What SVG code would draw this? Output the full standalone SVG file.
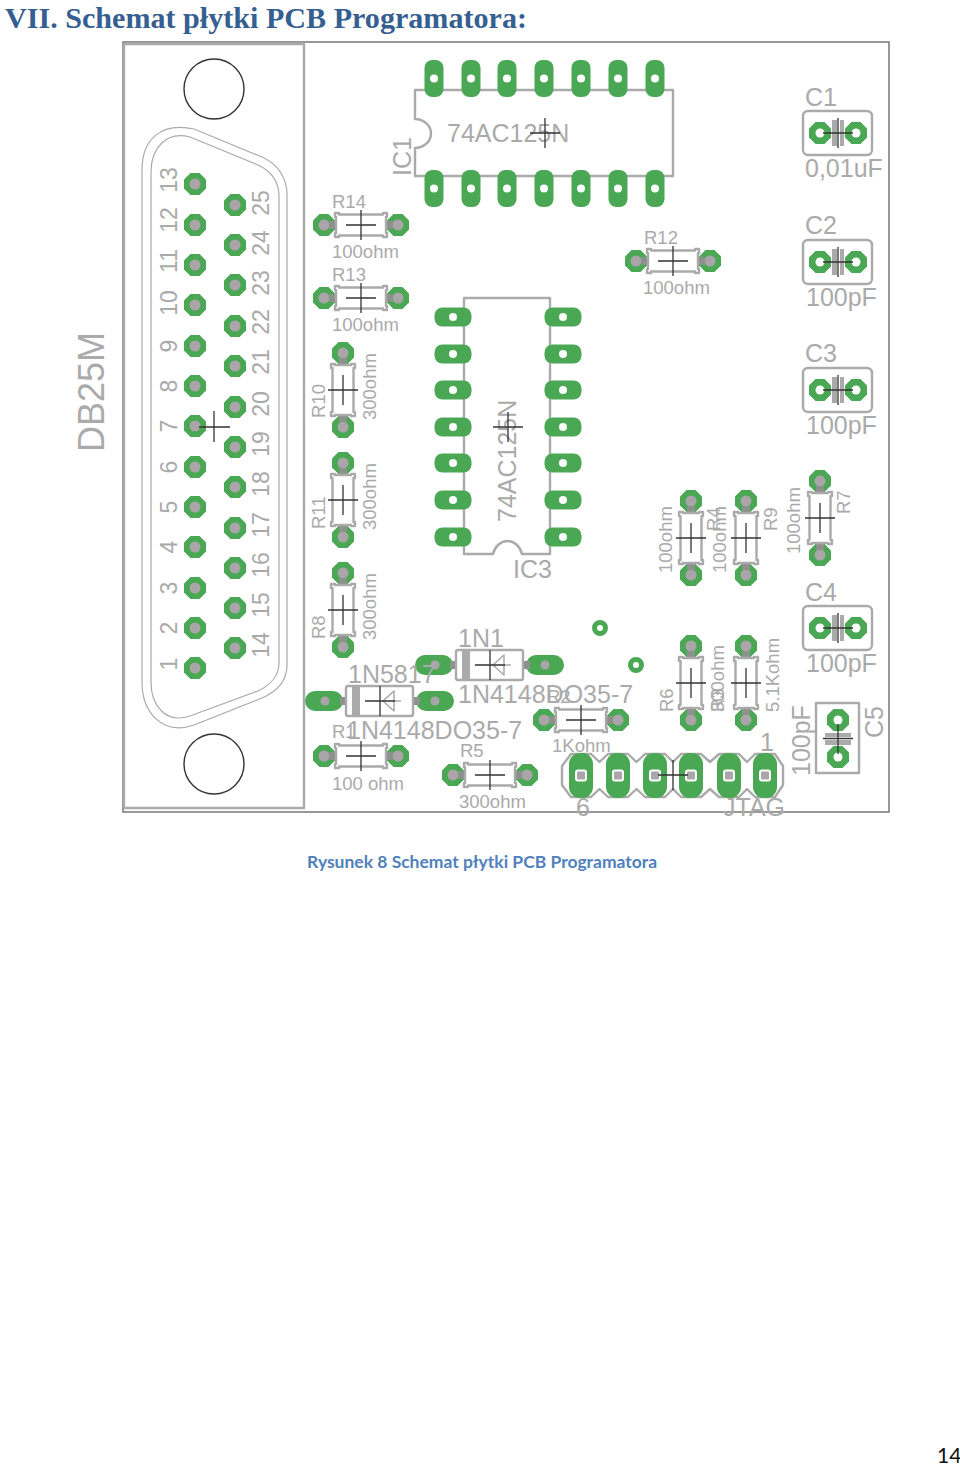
<svg xmlns="http://www.w3.org/2000/svg" xmlns:xlink="http://www.w3.org/1999/xlink" width="960" height="1466" viewBox="0 0 960 1466">
<style>
.t{font-family:"Liberation Sans",Arial,sans-serif;fill:#aaaaaa}
.s{font-size:18.5px}
.m{font-size:23px}
.l{font-size:25px}
.o{fill:none;stroke:#aaaaaa;stroke-width:2.4;stroke-linejoin:round}
.g{fill:#4aa753}
.h{fill:#a9a5a9}
.w{fill:#ffffff}
.x{stroke:#333333;stroke-width:1.3;fill:none}
.st{stroke:#8c918c;stroke-width:8;fill:none}
.bar{fill:#aaaaaa}
</style>
<defs>
<polygon id="oct" points="-4.5,-11 4.5,-11 11,-4.5 11,4.5 4.5,11 -4.5,11 -11,4.5 -11,-4.5"/>
<g id="pin"><use href="#oct" class="g"/><circle class="h" r="5.5"/></g>
<g id="res">
<use href="#pin" x="-37"/><use href="#pin" x="37"/>
<path class="st" d="M-32,0H-24M24,0H32"/>
<path class="o" d="M-26,-12H-22V-10.500H22V-12H26V-8H25V8H26V12H22V10.500H-22V12H-26V8H-25V-8H-26Z"/>
<path class="x" d="M-15,0H15M0,-15V15"/>
</g>
<g id="cap">
<rect class="o" x="-35" y="-22" width="69" height="44" rx="5"/>
<use href="#oct" class="g" x="-18"/><use href="#oct" class="g" x="18"/>
<circle class="w" cx="-18" r="4.5"/><circle class="w" cx="18" r="4.5"/>
<rect class="bar" x="-6" y="-13" width="5" height="26"/><rect class="bar" x="2" y="-13" width="4" height="26"/>
<path class="x" d="M-15,0H15M0,-15V15"/>
</g>
<rect id="ph" class="g" x="-9.500" y="-18.5" width="19" height="37" rx="8"/>
<rect id="pw" class="g" x="-18.5" y="-9.500" width="37" height="19" rx="8"/>
<g id="diode">
<rect class="g" x="-75" y="-10" width="38" height="20" rx="10"/><rect class="g" x="36" y="-10" width="38" height="20" rx="10"/>
<path class="st" d="M-40,0H-34M33,0H40"/>
<circle class="h" cx="-55" r="4.5"/><circle class="h" cx="55" r="4.5"/>
<rect class="o" x="-34" y="-15" width="67" height="30" rx="2"/>
<rect class="bar" x="-28" y="-14" width="8" height="28"/>
<path class="o" style="stroke-width:1.5" d="M3,0L14,-10V10ZM14,0H21"/>
<path class="x" d="M-15,0H15M0,-15V15"/>
</g>
<g id="jp"><rect class="g" x="-12" y="-22.5" width="24" height="45" rx="11"/><rect class="w" x="-6" y="-6" width="12" height="12" rx="3"/><rect class="h" x="-4" y="-4" width="8" height="8" rx="1"/></g>
</defs>
<rect width="960" height="1466" fill="#ffffff"/>
<text id="title" x="5" y="28" font-family="Liberation Serif,serif" font-weight="700" font-size="29" fill="#365f91" textLength="522" lengthAdjust="spacingAndGlyphs">VII. Schemat płytki PCB Programatora:</text>
<g id="board">
<rect x="123" y="42" width="766" height="770" fill="#ffffff" stroke="#777777" stroke-width="1.5"/>
</g>
<g id="DB25M">
<rect class="o" x="124" y="44" width="180" height="764"/>
<circle cx="214" cy="89" r="30" fill="none" stroke="#333333" stroke-width="1.4"/>
<circle cx="214" cy="764" r="30" fill="none" stroke="#333333" stroke-width="1.4"/>
<path fill="none" stroke="#aaaaaa" stroke-width="1.2" d="M142,170C142,140 160,122 194,129L262,157C278,164 287,178 287,195V665C287,680 278,691 262,698L194,725C162,736 142,712 142,682Z"/>
<path fill="none" stroke="#aaaaaa" stroke-width="1.2" d="M151,172C151,148 166,131 190,137L258,165C271,171 279,182 279,197V663C279,675 271,685 258,691L190,716C166,724 151,706 151,682Z"/>
<g>
<use href="#pin" x="195" y="184"/><use href="#pin" x="195" y="225"/><use href="#pin" x="195" y="265"/><use href="#pin" x="195" y="305"/><use href="#pin" x="195" y="346"/><use href="#pin" x="195" y="386"/><use href="#pin" x="195" y="426"/><use href="#pin" x="195" y="467"/><use href="#pin" x="195" y="507"/><use href="#pin" x="195" y="547"/><use href="#pin" x="195" y="588"/><use href="#pin" x="195" y="628"/><use href="#pin" x="195" y="668"/>
<use href="#pin" x="235" y="205"/><use href="#pin" x="235" y="245"/><use href="#pin" x="235" y="285"/><use href="#pin" x="235" y="326"/><use href="#pin" x="235" y="366"/><use href="#pin" x="235" y="407"/><use href="#pin" x="235" y="447"/><use href="#pin" x="235" y="487"/><use href="#pin" x="235" y="528"/><use href="#pin" x="235" y="568"/><use href="#pin" x="235" y="608"/><use href="#pin" x="235" y="648"/>
</g>
<g class="t m" text-anchor="middle">
<text transform="translate(177,180) rotate(-90)">13</text><text transform="translate(177,220) rotate(-90)">12</text><text transform="translate(177,261) rotate(-90)">11</text><text transform="translate(177,303) rotate(-90)">10</text><text transform="translate(177,346) rotate(-90)">9</text><text transform="translate(177,386) rotate(-90)">8</text><text transform="translate(177,426) rotate(-90)">7</text><text transform="translate(177,467) rotate(-90)">6</text><text transform="translate(177,507) rotate(-90)">5</text><text transform="translate(177,547) rotate(-90)">4</text><text transform="translate(177,588) rotate(-90)">3</text><text transform="translate(177,628) rotate(-90)">2</text><text transform="translate(177,664) rotate(-90)">1</text>
<text transform="translate(269,203) rotate(-90)">25</text><text transform="translate(269,243) rotate(-90)">24</text><text transform="translate(269,283) rotate(-90)">23</text><text transform="translate(269,322) rotate(-90)">22</text><text transform="translate(269,362) rotate(-90)">21</text><text transform="translate(269,404) rotate(-90)">20</text><text transform="translate(269,444) rotate(-90)">19</text><text transform="translate(269,484) rotate(-90)">18</text><text transform="translate(269,525) rotate(-90)">17</text><text transform="translate(269,565) rotate(-90)">16</text><text transform="translate(269,605) rotate(-90)">15</text><text transform="translate(269,645) rotate(-90)">14</text>
</g>
<text class="t" font-size="36" transform="translate(104,452) rotate(-90)">DB25M</text>
<path class="x" d="M199,427H230M214,411V442"/>
</g>
<g id="IC1">
<path class="o" d="M415,119V90H673V176H415V148C422,148 431,143 431,133.5C431,124 422,119 415,119Z"/>
<g><use href="#ph" x="434" y="78.500"/><use href="#ph" x="471" y="78.500"/><use href="#ph" x="507" y="78.500"/><use href="#ph" x="544" y="78.500"/><use href="#ph" x="581" y="78.500"/><use href="#ph" x="618" y="78.500"/><use href="#ph" x="655" y="78.500"/>
<use href="#ph" x="434" y="188.500"/><use href="#ph" x="471" y="188.500"/><use href="#ph" x="507" y="188.500"/><use href="#ph" x="544" y="188.500"/><use href="#ph" x="581" y="188.500"/><use href="#ph" x="618" y="188.500"/><use href="#ph" x="655" y="188.500"/></g>
<g class="w"><circle cx="434" cy="78.500" r="4"/><circle cx="471" cy="78.500" r="4"/><circle cx="507" cy="78.500" r="4"/><circle cx="544" cy="78.500" r="4"/><circle cx="581" cy="78.500" r="4"/><circle cx="618" cy="78.500" r="4"/><circle cx="655" cy="78.500" r="4"/>
<circle cx="434" cy="188.500" r="4"/><circle cx="471" cy="188.500" r="4"/><circle cx="507" cy="188.500" r="4"/><circle cx="544" cy="188.500" r="4"/><circle cx="581" cy="188.500" r="4"/><circle cx="618" cy="188.500" r="4"/><circle cx="655" cy="188.500" r="4"/></g>
<text class="t l" x="447" y="142">74AC125N</text>
<text class="t l" transform="translate(411,176) rotate(-90)">IC1</text>
<path class="x" d="M530,133H560M545,118V148"/>
</g>
<g id="IC3">
<path class="o" d="M464,298H550V554H522C520,546 514,541 507.500,541C501,541 495,546 493,554H464Z"/>
<g><use href="#pw" x="453" y="317"/><use href="#pw" x="453" y="354"/><use href="#pw" x="453" y="390"/><use href="#pw" x="453" y="427"/><use href="#pw" x="453" y="463"/><use href="#pw" x="453" y="500"/><use href="#pw" x="453" y="537"/>
<use href="#pw" x="563" y="317"/><use href="#pw" x="563" y="354"/><use href="#pw" x="563" y="390"/><use href="#pw" x="563" y="427"/><use href="#pw" x="563" y="463"/><use href="#pw" x="563" y="500"/><use href="#pw" x="563" y="537"/></g>
<g class="w"><circle cx="453" cy="317" r="4"/><circle cx="453" cy="354" r="4"/><circle cx="453" cy="390" r="4"/><circle cx="453" cy="427" r="4"/><circle cx="453" cy="463" r="4"/><circle cx="453" cy="500" r="4"/><circle cx="453" cy="537" r="4"/>
<circle cx="563" cy="317" r="4"/><circle cx="563" cy="354" r="4"/><circle cx="563" cy="390" r="4"/><circle cx="563" cy="427" r="4"/><circle cx="563" cy="463" r="4"/><circle cx="563" cy="500" r="4"/><circle cx="563" cy="537" r="4"/></g>
<text class="t l" transform="translate(516,522) rotate(-90)">74AC125N</text>
<text class="t l" x="513" y="578">IC3</text>
<path class="x" d="M493,427H523M508,412V442"/>
</g>
<g id="R14"><use href="#res" x="361" y="225"/><text class="t s" x="332" y="208">R14</text><text class="t s" x="332" y="258">100ohm</text></g>
<g id="R13"><use href="#res" x="361" y="298"/><text class="t s" x="332" y="281">R13</text><text class="t s" x="332" y="331">100ohm</text></g>
<g id="R12"><use href="#res" x="673" y="261"/><text class="t s" x="644" y="244">R12</text><text class="t s" x="643" y="294">100ohm</text></g>
<g id="R10"><use href="#res" transform="translate(343,390) rotate(90)"/><text class="t s" transform="translate(325,418) rotate(-90)">R10</text><text class="t s" transform="translate(376,420) rotate(-90)">300ohm</text></g>
<g id="R11"><use href="#res" transform="translate(343,500) rotate(90)"/><text class="t s" transform="translate(325,529) rotate(-90)">R11</text><text class="t s" transform="translate(376,530) rotate(-90)">300ohm</text></g>
<g id="R8"><use href="#res" transform="translate(343,610) rotate(90)"/><text class="t s" transform="translate(325,639) rotate(-90)">R8</text><text class="t s" transform="translate(376,640) rotate(-90)">300ohm</text></g>
<g id="R4"><use href="#res" transform="translate(691,538) rotate(90)"/><text class="t s" transform="translate(672,573) rotate(-90)">100ohm</text><text class="t s" transform="translate(720,531) rotate(-90)">R4</text></g>
<g id="R9"><use href="#res" transform="translate(746,538) rotate(90)"/><text class="t s" transform="translate(726,573) rotate(-90)">100ohm</text><text class="t s" transform="translate(777,531) rotate(-90)">R9</text></g>
<g id="R7"><use href="#res" transform="translate(820,518) rotate(90)"/><text class="t s" transform="translate(800,554) rotate(-90)">100ohm</text><text class="t s" transform="translate(850,514) rotate(-90)">R7</text></g>
<g id="R6"><use href="#res" transform="translate(691,683) rotate(90)"/><text class="t s" transform="translate(673,712) rotate(-90)">R6</text><text class="t s" transform="translate(724,712) rotate(-90)">300ohm</text></g>
<g id="R3"><use href="#res" transform="translate(746,683) rotate(90)"/><text class="t s" transform="translate(724,712) rotate(-90)">R3</text><text class="t s" transform="translate(779,712) rotate(-90)">5.1Kohm</text></g>
<g id="R1"><use href="#res" x="361" y="756"/><text class="t s" x="332" y="738">R1</text><text class="t s" x="332" y="790">100 ohm</text></g>
<g id="R5"><use href="#res" x="490" y="775"/><text class="t s" x="460" y="757">R5</text><text class="t s" x="459" y="808">300ohm</text></g>
<g id="R2"><use href="#res" x="581" y="720"/><text class="t s" x="547" y="703">R2</text><text class="t s" x="552" y="752">1Kohm</text></g>
<g id="D1"><use href="#diode" x="490" y="665"/><text class="t l" x="458" y="647">1N1</text><text class="t l" x="458" y="703">1N4148DO35-7</text></g>
<g id="D2"><use href="#diode" x="380" y="701"/><text class="t l" x="348" y="683">1N5817</text><text class="t l" x="347" y="739">1N4148DO35-7</text></g>
<g id="C1"><use href="#cap" x="838" y="133"/><text class="t l" x="805" y="106">C1</text><text class="t l" x="805" y="177">0,01uF</text></g>
<g id="C2"><use href="#cap" x="838" y="262"/><text class="t l" x="805" y="234">C2</text><text class="t l" x="806" y="306">100pF</text></g>
<g id="C3"><use href="#cap" x="838" y="390"/><text class="t l" x="805" y="362">C3</text><text class="t l" x="806" y="434">100pF</text></g>
<g id="C4"><use href="#cap" x="838" y="628"/><text class="t l" x="805" y="601">C4</text><text class="t l" x="806" y="672">100pF</text></g>
<g id="C5">
<rect class="o" x="816" y="703" width="43" height="70"/>
<use href="#oct" class="g" x="838" y="720"/><use href="#oct" class="g" x="838" y="757"/>
<circle class="w" cx="838" cy="720" r="4.500"/><circle class="w" cx="838" cy="757" r="4.500"/>
<rect class="bar" x="825" y="733" width="26" height="4"/><rect class="bar" x="825" y="740" width="26" height="5"/>
<path class="x" d="M823,738.500H853M838,724V754"/>
<text class="t l" transform="translate(810,776) rotate(-90)">100pF</text>
<text class="t l" transform="translate(883,738) rotate(-90)">C5</text>
</g>
<g id="JTAG">
<path class="o" d="M562,766L571,754H591L599.500,762L608,754H628L636.500,762L645,754H665L673,762L681,754H701L710,762L719,754H739L747,762L755,754H775L783,766V785L775,797H755L747,789L739,797H719L710,789L701,797H681L673,789L665,797H645L636.500,789L628,797H608L599.500,789L591,797H571L562,785Z"/>
<use href="#jp" x="581" y="775.500"/><use href="#jp" x="618" y="775.500"/><use href="#jp" x="655" y="775.500"/><use href="#jp" x="691" y="775.500"/><use href="#jp" x="729" y="775.500"/><use href="#jp" x="765" y="775.500"/>
<path class="x" d="M658,775H688M673,760V790"/>
<text class="t l" x="576" y="816">6</text><text class="t l" x="760" y="751">1</text><text class="t l" x="723" y="816">JTAG</text>
</g>
<g id="V1"><circle cx="600" cy="628" r="5.500" fill="#ffffff" stroke="#4aa753" stroke-width="5"/></g>
<g id="V2"><circle cx="636" cy="665" r="5.500" fill="#ffffff" stroke="#4aa753" stroke-width="5"/></g>
<text id="caption" x="307" y="868" font-family="Lato,sans-serif" font-weight="700" font-size="17" fill="#4f81bd" textLength="350" lengthAdjust="spacingAndGlyphs">Rysunek 8 Schemat płytki PCB Programatora</text>
<text id="page" x="937" y="1463" font-family="Lato,sans-serif" font-size="21" fill="#111111">14</text>
</svg>
